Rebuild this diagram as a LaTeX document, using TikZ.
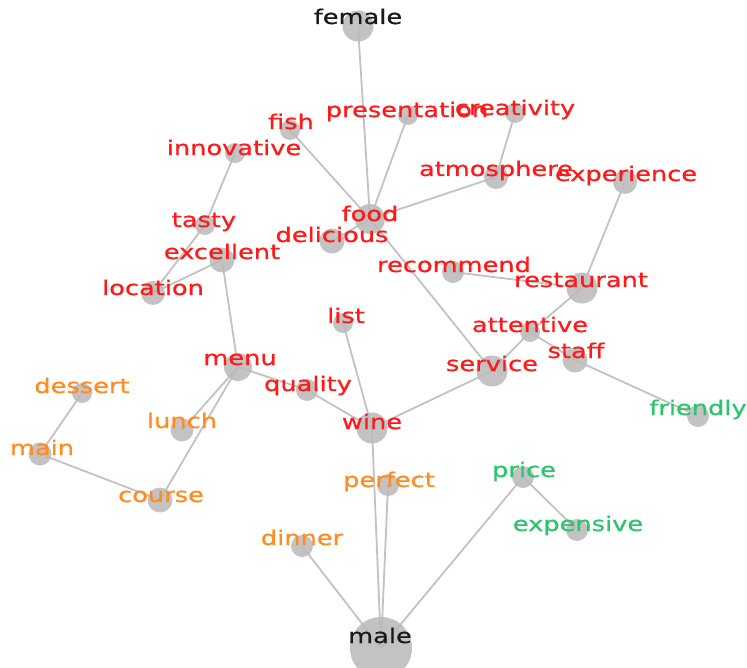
\documentclass[tikz,border=0pt]{standalone}
\usepackage{fontspec}
\newfontfamily\lblfamily[FakeStretch=1.27,FakeBold=0.8]{DejaVu Sans}
\definecolor{wred}{HTML}{FF1A1A}
\definecolor{worange}{HTML}{FF8C1E}
\definecolor{wgreen}{HTML}{2DC46E}
\definecolor{wblack}{HTML}{1A1A1A}
\definecolor{dotgray}{HTML}{BBBBBB}
\definecolor{edgegray}{HTML}{C2C2C2}
\tikzset{
  edge/.style={draw=edgegray, line width=1.8pt},
  wdot/.style={circle, fill=dotgray, fill opacity=0.88, draw=none, inner sep=0pt, minimum size=#1},
  lbl/.style={anchor=base, inner sep=0pt, text=#1, font=\lblfamily\fontsize{20.2}{21}\selectfont}
}
\begin{document}
\begin{tikzpicture}[x=1pt,y=-1pt]
\useasboundingbox (0,0) rectangle (747,668);
% positions
\coordinate (female) at (358,26);
\coordinate (fish) at (290,130);
\coordinate (presentation) at (408,115);
\coordinate (creativity) at (515,113);
\coordinate (innovative) at (235,153);
\coordinate (atmosphere) at (496,177);
\coordinate (experience) at (625,182);
\coordinate (food) at (370,219);
\coordinate (delicious) at (332,241);
\coordinate (tasty) at (205,225);
\coordinate (excellent) at (222,260);
\coordinate (recommend) at (453,272);
\coordinate (restaurant) at (582,288);
\coordinate (location) at (153,293);
\coordinate (list) at (343,323);
\coordinate (attentive) at (530,332);
\coordinate (staff) at (575,360);
\coordinate (menu) at (238,367);
\coordinate (service) at (492,371);
\coordinate (quality) at (307,390);
\coordinate (dessert) at (82,393);
\coordinate (friendly) at (698,416);
\coordinate (wine) at (372,428);
\coordinate (lunch) at (182,430);
\coordinate (main) at (40,454);
\coordinate (price) at (523,477);
\coordinate (perfect) at (388,485);
\coordinate (course) at (160,500);
\coordinate (expensive) at (577,530);
\coordinate (dinner) at (302,546);
\coordinate (male) at (381,648);
% edges
\draw[edge] (female) -- (food);
\draw[edge] (fish) -- (food);
\draw[edge] (presentation) -- (food);
\draw[edge] (atmosphere) -- (food);
\draw[edge] (creativity) -- (atmosphere);
\draw[edge] (food) -- (delicious);
\draw[edge] (food) -- (service);
\draw[edge] (innovative) -- (tasty);
\draw[edge] (tasty) -- (location);
\draw[edge] (location) -- (excellent);
\draw[edge] (excellent) -- (menu);
\draw[edge] (menu) -- (quality);
\draw[edge] (quality) -- (wine);
\draw[edge] (menu) -- (lunch);
\draw[edge] (menu) -- (course);
\draw[edge] (course) -- (main);
\draw[edge] (main) -- (dessert);
\draw[edge] (list) -- (wine);
\draw[edge] (wine) -- (service);
\draw[edge] (wine) -- (male);
\draw[edge] (service) -- (attentive);
\draw[edge] (attentive) -- (restaurant);
\draw[edge] (attentive) -- (staff);
\draw[edge] (staff) -- (friendly);
\draw[edge] (restaurant) -- (experience);
\draw[edge] (restaurant) -- (recommend);
\draw[edge] (perfect) -- (male);
\draw[edge] (dinner) -- (male);
\draw[edge] (price) -- (male);
\draw[edge] (price) -- (expensive);
% dots
\node[wdot=31pt] (female-dot) at (female) {};
\node[wdot=20pt] (fish-dot) at (fish) {};
\node[wdot=20pt] (presentation-dot) at (presentation) {};
\node[wdot=20pt] (creativity-dot) at (creativity) {};
\node[wdot=20pt] (innovative-dot) at (innovative) {};
\node[wdot=24pt] (atmosphere-dot) at (atmosphere) {};
\node[wdot=24pt] (experience-dot) at (experience) {};
\node[wdot=30pt] (food-dot) at (food) {};
\node[wdot=25pt] (delicious-dot) at (delicious) {};
\node[wdot=20pt] (tasty-dot) at (tasty) {};
\node[wdot=25pt] (excellent-dot) at (excellent) {};
\node[wdot=22pt] (recommend-dot) at (recommend) {};
\node[wdot=31pt] (restaurant-dot) at (restaurant) {};
\node[wdot=24pt] (location-dot) at (location) {};
\node[wdot=20pt] (list-dot) at (list) {};
\node[wdot=20pt] (attentive-dot) at (attentive) {};
\node[wdot=25pt] (staff-dot) at (staff) {};
\node[wdot=28pt] (menu-dot) at (menu) {};
\node[wdot=31pt] (service-dot) at (service) {};
\node[wdot=22pt] (quality-dot) at (quality) {};
\node[wdot=20pt] (dessert-dot) at (dessert) {};
\node[wdot=22pt] (friendly-dot) at (friendly) {};
\node[wdot=31pt] (wine-dot) at (wine) {};
\node[wdot=23pt] (lunch-dot) at (lunch) {};
\node[wdot=23pt] (main-dot) at (main) {};
\node[wdot=22pt] (price-dot) at (price) {};
\node[wdot=22pt] (perfect-dot) at (perfect) {};
\node[wdot=25pt] (course-dot) at (course) {};
\node[wdot=22pt] (expensive-dot) at (expensive) {};
\node[wdot=22pt] (dinner-dot) at (dinner) {};
\node[wdot=62pt] (male-dot) at (male) {};
% labels
\node[lbl=wblack] (female-txt) at (358,24) {female};
\node[lbl=wred] (fish-txt) at (291,129) {fish};
\node[lbl=wred] (presentation-txt) at (407,117) {presentation};
\node[lbl=wred] (creativity-txt) at (515,115) {creativity};
\node[lbl=wred] (innovative-txt) at (234,155) {innovative};
\node[lbl=wred] (atmosphere-txt) at (496,176) {atmosphere};
\node[lbl=wred] (experience-txt) at (626,181) {experience};
\node[lbl=wred] (food-txt) at (370,221) {food};
\node[lbl=wred] (delicious-txt) at (332,242) {delicious};
\node[lbl=wred] (tasty-txt) at (204,227) {tasty};
\node[lbl=wred] (excellent-txt) at (222,259) {excellent};
\node[lbl=wred] (recommend-txt) at (454,272) {recommend};
\node[lbl=wred] (restaurant-txt) at (581,287) {restaurant};
\node[lbl=wred] (location-txt) at (153,295) {location};
\node[lbl=wred] (list-txt) at (346,323) {list};
\node[lbl=wred] (attentive-txt) at (530,332) {attentive};
\node[lbl=wred] (staff-txt) at (576,358) {staff};
\node[lbl=wred] (menu-txt) at (240,365) {menu};
\node[lbl=wred] (service-txt) at (492,371) {service};
\node[lbl=wred] (quality-txt) at (308,391) {quality};
\node[lbl=worange] (dessert-txt) at (82,393) {dessert};
\node[lbl=wgreen] (friendly-txt) at (698,415) {friendly};
\node[lbl=wred] (wine-txt) at (372,429) {wine};
\node[lbl=worange] (lunch-txt) at (182,428) {lunch};
\node[lbl=worange] (main-txt) at (42,455) {main};
\node[lbl=wgreen] (price-txt) at (524,477) {price};
\node[lbl=worange] (perfect-txt) at (389,487) {perfect};
\node[lbl=worange] (course-txt) at (161,502) {course};
\node[lbl=wgreen] (expensive-txt) at (578,531) {expensive};
\node[lbl=worange] (dinner-txt) at (302,545) {dinner};
\node[lbl=wblack] (male-txt) at (380,643) {male};
\end{tikzpicture}
\end{document}
